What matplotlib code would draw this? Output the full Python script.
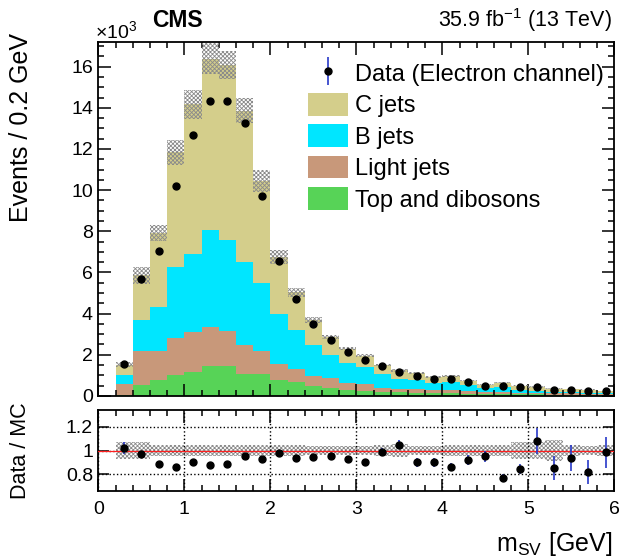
import numpy as np
import matplotlib
matplotlib.use("Agg")
import matplotlib.pyplot as plt
from matplotlib.lines import Line2D
from matplotlib.patches import Patch
from matplotlib.ticker import MultipleLocator

plt.rcParams["font.family"] = ["Liberation Sans", "DejaVu Sans"]
plt.rcParams["mathtext.fontset"] = "custom"
plt.rcParams["mathtext.rm"] = "Liberation Sans"
plt.rcParams["mathtext.it"] = "Liberation Sans:italic"
plt.rcParams["mathtext.bf"] = "Liberation Sans:bold"
plt.rcParams["hatch.linewidth"] = 0.6
plt.rcParams["hatch.color"] = "#8a8a8a"

# ---- binning: m_SV from 0.2 to 6.0 GeV in 0.2 GeV bins ----
bin_edges = np.linspace(0.2, 6.0, 30)
bin_centers = 0.5 * (bin_edges[:-1] + bin_edges[1:])

# ---- yields per bin, in thousands of events ----
top_dibosons = [0.05, 0.51, 0.78, 1.02, 1.18, 1.47, 1.46, 1.07, 1.07, 0.79,
                0.67, 0.49, 0.37, 0.29, 0.24, 0.18, 0.17, 0.15, 0.14, 0.13,
                0.11, 0.09, 0.09, 0.07, 0.07, 0.06, 0.05, 0.04, 0.04]
light_jets = [0.55, 1.67, 1.40, 1.81, 1.94, 1.86, 1.69, 1.41, 1.11, 0.76,
              0.65, 0.50, 0.49, 0.36, 0.33, 0.22, 0.17, 0.18, 0.15, 0.16,
              0.13, 0.12, 0.12, 0.09, 0.09, 0.07, 0.08, 0.06, 0.06]
b_jets = [0.41, 1.52, 2.12, 3.45, 3.77, 4.73, 4.42, 4.04, 3.31, 2.42,
          1.86, 1.48, 1.13, 0.94, 0.82, 0.67, 0.47, 0.45, 0.36, 0.38,
          0.29, 0.16, 0.21, 0.13, 0.10, 0.08, 0.05, 0.06, 0.03]
c_jets = [0.51, 2.16, 3.60, 5.55, 7.28, 8.33, 8.50, 7.35, 4.96, 2.79,
          1.86, 1.22, 0.88, 0.71, 0.56, 0.43, 0.43, 0.32, 0.28, 0.29,
          0.21, 0.18, 0.23, 0.21, 0.17, 0.15, 0.16, 0.15, 0.12]
data_electron = [1.55, 5.66, 7.05, 10.19, 12.70, 14.35, 14.34, 13.25, 9.72, 6.55,
                 4.71, 3.48, 2.70, 2.13, 1.73, 1.46, 1.18, 0.98, 0.82, 0.82,
                 0.66, 0.50, 0.50, 0.42, 0.41, 0.31, 0.29, 0.26, 0.22]
# relative MC uncertainty per bin
mc_rel_unc = [0.07, 0.07, 0.05, 0.05, 0.05, 0.045, 0.043, 0.043, 0.05, 0.05,
              0.045, 0.04, 0.04, 0.04, 0.04, 0.045, 0.055, 0.04, 0.04, 0.05,
              0.05, 0.05, 0.05, 0.07, 0.07, 0.09, 0.05, 0.035, 0.05]
# data / MC ratio and its statistical uncertainty
ratio = [1.025, 0.97, 0.89, 0.865, 0.90, 0.88, 0.89, 0.955, 0.93, 0.978,
         0.94, 0.945, 0.95, 0.927, 0.90, 0.99, 1.05, 0.90, 0.90, 0.865,
         0.92, 0.95, 0.77, 0.845, 1.08, 0.857, 0.935, 0.82, 0.985]
ratio_err = [0.05, 0.015, 0.012, 0.01, 0.01, 0.01, 0.01, 0.01, 0.012, 0.012,
             0.015, 0.018, 0.025, 0.028, 0.03, 0.03, 0.04, 0.035, 0.035, 0.03,
             0.04, 0.05, 0.035, 0.045, 0.11, 0.10, 0.11, 0.10, 0.13]

legend_labels = ["Data (Electron channel)", "C jets", "B jets", "Light jets",
                 "Top and dibosons"]

col_c = "#D4CE8B"
col_b = "#00E6FF"
col_light = "#C8987A"
col_top = "#57D357"
col_err = "#2838c8"
band_hatch = "xxxxxxxx"

fig = plt.figure(figsize=(6.23, 5.6), dpi=100)
ax = fig.add_axes([0.158, 0.293, 0.828, 0.632])
rx = fig.add_axes([0.158, 0.123, 0.828, 0.145])

# ---- stacked MC ----
base = np.zeros(len(bin_centers))
for vals, col in [(top_dibosons, col_top), (light_jets, col_light),
                  (b_jets, col_b), (c_jets, col_c)]:
    top = base + np.asarray(vals)
    ax.stairs(top, bin_edges, baseline=base, fill=True, facecolor=col,
              edgecolor="none", lw=0, zorder=1)
    base = top
mc_total = base
unc = np.asarray(mc_rel_unc)

ax.stairs(mc_total * (1 + unc), bin_edges, baseline=mc_total * (1 - unc),
          fill=True, facecolor="none", edgecolor="#8a8a8a", hatch=band_hatch,
          lw=0, zorder=2)
ax.plot(bin_centers, data_electron, "o", color="black", ms=5, zorder=5)

ax.set_xlim(0, 6)
ax.set_ylim(0, 17.2)
ax.xaxis.set_major_locator(MultipleLocator(1))
ax.xaxis.set_minor_locator(MultipleLocator(0.2))
ax.yaxis.set_major_locator(MultipleLocator(2))
ax.yaxis.set_minor_locator(MultipleLocator(0.5))
ax.tick_params(which="both", direction="in", top=True, right=True,
               labelbottom=False, labelsize=14, pad=4, width=1.1)
ax.tick_params(which="major", length=9)
ax.tick_params(which="minor", length=4.5)
for s in ax.spines.values():
    s.set_linewidth(1.3)

handles = [
    (Line2D([], [], marker="|", ms=20, mew=1.2, color=col_err, ls="none"),
     Line2D([], [], marker="o", ms=5, color="black", ls="none")),
    Patch(facecolor=col_c, edgecolor="none"),
    Patch(facecolor=col_b, edgecolor="none"),
    Patch(facecolor=col_light, edgecolor="none"),
    Patch(facecolor=col_top, edgecolor="none"),
]
ax.legend(handles, legend_labels, loc="upper left", bbox_to_anchor=(0.406, 0.945),
          frameon=False, fontsize=17, handlelength=1.7, handleheight=1.1,
          handletextpad=0.3, labelspacing=0.3, borderaxespad=0, borderpad=0)

# ---- ratio panel ----
rx.stairs(1 + unc, bin_edges, baseline=1 - unc, fill=True, facecolor="none",
          edgecolor="#8a8a8a", hatch=band_hatch, lw=0, zorder=1)
rx.axhline(1.0, color="#ff2020", lw=0.9, zorder=3)
rx.errorbar(bin_centers, ratio, yerr=ratio_err, fmt="o", color="black", ms=5,
            ecolor=col_err, elinewidth=1.2, capsize=0, zorder=5)
rx.set_xlim(0, 6)
rx.set_ylim(0.66, 1.34)
rx.set_yticks([0.8, 1.0, 1.2])
rx.set_yticklabels(["0.8", "1", "1.2"])
rx.xaxis.set_major_locator(MultipleLocator(1))
rx.xaxis.set_minor_locator(MultipleLocator(0.2))
rx.grid(True, which="major", ls=":", color="black", lw=1.0)
rx.tick_params(which="both", direction="in", top=True, right=True,
               labelsize=14, width=1.1)
rx.tick_params(axis="x", which="major", length=9, pad=7)
rx.tick_params(axis="x", which="minor", length=4.5)
rx.tick_params(axis="y", which="major", length=8, pad=4)
for s in rx.spines.values():
    s.set_linewidth(1.3)

# ---- labels and captions ----
fig.text(0.033, 0.772, "Events / 0.2 GeV", rotation=90, ha="center",
         va="center", fontsize=18)
fig.text(0.033, 0.196, "Data / MC", rotation=90, ha="center", va="center",
         fontsize=15.5)
fig.text(0.982, 0.016, r"m$_{\mathrm{SV}}$ [GeV]", ha="right", va="baseline",
         fontsize=18)
fig.text(0.244, 0.952, "CMS", fontweight="bold", ha="left", va="baseline",
         fontsize=16.5)
fig.text(0.982, 0.952, r"35.9 fb$^{-1}$ (13 TeV)", ha="right", va="baseline",
         fontsize=15.5)
fig.text(0.153, 0.932, r"$\times$10$^{3}$", ha="left", va="baseline",
         fontsize=14)

fig.savefig("out.png", dpi=100)
